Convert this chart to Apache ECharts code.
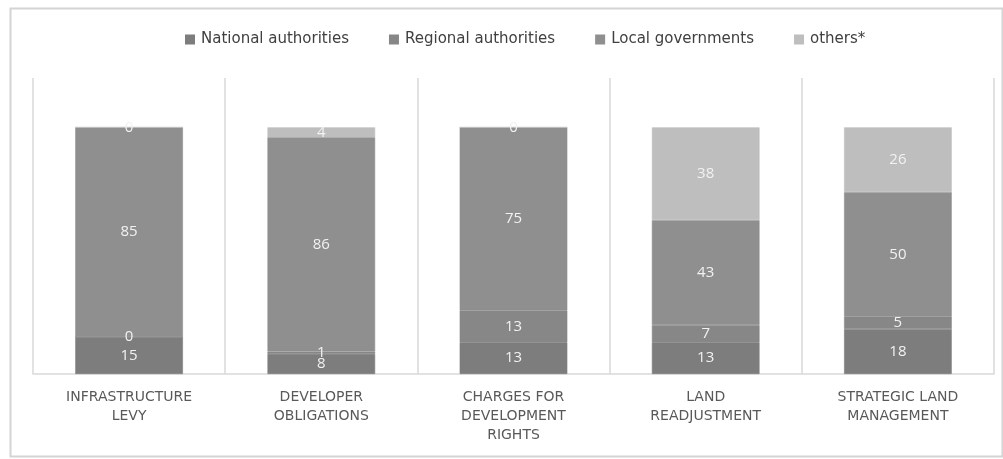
<!DOCTYPE html>
<html>
<head>
<meta charset="utf-8">
<script src="https://cdn.jsdelivr.net/npm/echarts@6/dist/echarts.min.js"></script>
<style>html,body{margin:0;padding:0;background:#fff;}#c{width:1003px;height:459px;}</style>
</head>
<body>
<div id="c"></div>
<script>
const categories = ['INFRASTRUCTURE\nLEVY', 'DEVELOPER\nOBLIGATIONS', 'CHARGES FOR\nDEVELOPMENT\nRIGHTS', 'LAND\nREADJUSTMENT', 'STRATEGIC LAND\nMANAGEMENT'];
const seriesNames = ['National authorities', 'Regional authorities', 'Local governments', 'others*'];
const national = [15, 8, 13, 13, 18];
const regional = [0, 1, 13, 7, 5];
const local = [85, 86, 75, 43, 50];
const others = [0, 4, 0, 38, 26];
const colors = ['#7d7d7d', '#878787', '#8f8f8f', '#bebebe'];

const chart = echarts.init(document.getElementById('c'));
const values = [national, regional, local, others];
// 100% stacked: each column scaled to its own total, labels show the raw value
const totals = categories.map((_, j) => values.reduce((s, arr) => s + arr[j], 0));
const LBL = 'DejaVu Sans';
chart.setOption({
  animation: false,
  graphic: [{
    type: 'rect', left: 8, top: 6, shape: {width: 992, height: 448},
    style: {fill: 'none', stroke: '#d4d4d4', lineWidth: 2}, silent: true, z: -1
  }],
  legend: {
    top: 27, left: 180, itemWidth: 8, itemHeight: 8, itemGap: 40,
    icon: 'rect',
    textStyle: {color: '#404040', fontSize: 15, fontFamily: LBL, padding: [0, 0, 0, 2]},
    data: seriesNames
  },
  grid: {left: 33, right: 9, top: 78, bottom: 85, containLabel: false},
  xAxis: {
    type: 'category', data: categories,
    axisLine: {lineStyle: {color: '#d9d9d9', width: 1.5}},
    axisTick: {show: false},
    splitLine: {show: true, lineStyle: {color: '#d9d9d9', width: 1.5}},
    axisLabel: {color: '#595959', fontSize: 14, fontFamily: LBL, lineHeight: 19, margin: 14, interval: 0}
  },
  yAxis: {
    type: 'value', min: 0, max: 120, show: false,
    splitLine: {show: false}
  },
  series: seriesNames.map((n, i) => ({
    name: n, type: 'bar', stack: 'total', barWidth: '56%',
    data: values[i].map((v, j) => v / totals[j] * 100),
    itemStyle: {color: colors[i], borderColor: colors[i], borderWidth: 0.6},
    label: {
      show: true, position: 'inside', color: '#f2f2f2', fontSize: 15, fontFamily: 'Open Sans',
      formatter: p => String(values[i][p.dataIndex])
    }
  }))
});
</script>
</body>
</html>
